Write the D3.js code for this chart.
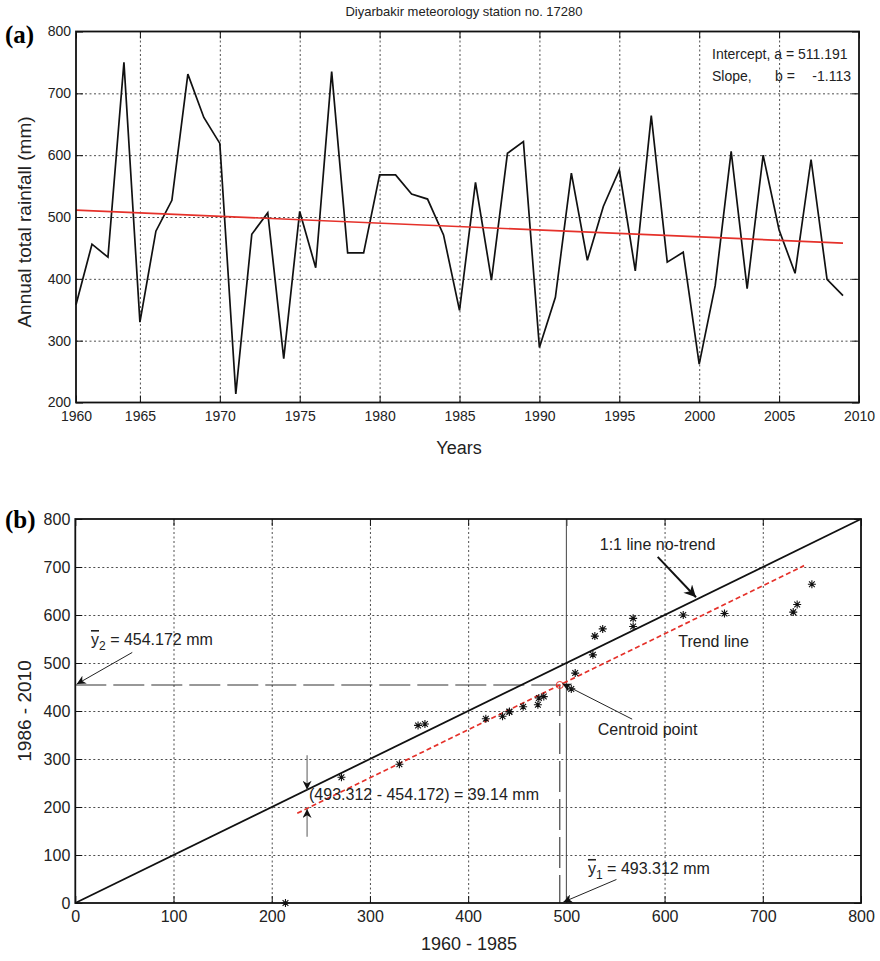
<!DOCTYPE html>
<html>
<head>
<meta charset="utf-8">
<script src="https://cdn.jsdelivr.net/npm/d3@7"></script>
<style>
  body { margin: 0; background: #fff; }
  svg { font-family: "Liberation Sans", Arial, sans-serif; }
  .grid line { stroke: #222; stroke-width: 0.8; stroke-dasharray: 2,2.5; }
  .grid path { display: none; }
  .ticklab path, .ticklab line { display: none; }
  .ticklab text { fill: #222; }
  .inner path { display: none; }
  .inner line { stroke: #111; stroke-width: 1; }
</style>
</head>
<body>
<svg width="880" height="961"></svg>
<script>
// ---- data (panel a): annual total rainfall, Diyarbakir 1961-2009 ----
const years = d3.range(1961, 2010);
const rainfall = [358, 456, 435, 750, 330, 477, 527, 731, 661, 619,
                  214, 472, 507, 271, 509, 418, 735, 442, 442, 568,
                  568, 537, 529, 471, 349, 556, 398, 603, 622, 289,
                  370, 571, 430, 517, 576, 413, 664, 427, 443, 262,
                  389, 606, 384, 600, 479, 409, 593, 399, 373];
const intercept = 511.191;
const slope = -1.113;
const trendYears = [1961, 2009];

const yearTicks = [1961, 1965, 1970, 1975, 1980, 1985, 1990, 1995, 2000, 2005, 2010];
const yearTickLabels = ['1960', '1965', '1970', '1975', '1980', '1985', '1990', '1995', '2000', '2005', '2010'];
const rainTicks = [200, 300, 400, 500, 600, 700, 800];

// ---- data (panel b): sorted halves 1960-1985 vs 1986-2010 ----
const firstHalf = [214, 271, 330, 349, 356, 418, 435, 442, 442, 456,
                   471, 472, 477, 505, 509, 527, 529, 537, 568, 568,
                   619, 661, 731, 735, 750];
const secondHalf = [0, 262, 289, 370, 373, 384, 389, 398, 399, 409,
                    413, 427, 430, 446, 479, 517, 556, 571, 576, 593,
                    600, 603, 606, 622, 664];
const oneToOne = [0, 800];
const trendX = [226, 742];
const trendShift = 39.14;
const meanFirst = 493.312;
const meanSecond = 454.172;
const bTicks = [0, 100, 200, 300, 400, 500, 600, 700, 800];

const svg = d3.select('svg');
const red = '#e5312a';

// arrow heads
const defs = svg.append('defs');
function marker(id, len, wid) {
    defs.append('marker')
        .attr('id', id)
        .attr('viewBox', '0 0 10 10')
        .attr('refX', 10).attr('refY', 5)
        .attr('markerUnits', 'userSpaceOnUse')
        .attr('markerWidth', len).attr('markerHeight', wid)
        .attr('orient', 'auto')
        .append('path')
        .attr('d', 'M0,0 L10,5 L0,10 L3,5 z')
        .attr('fill', '#111');
}
marker('headBig', 17, 12);
marker('head', 13, 9);

// ===================== panel (a) =====================
const a = { left: 76, top: 31.5, width: 783, height: 371 };
const xA = d3.scaleLinear().domain([1961, 2010]).range([0, a.width]);
const yA = d3.scaleLinear().domain([200, 800]).range([a.height, 0]);
const gA = svg.append('g').attr('transform', `translate(${a.left},${a.top})`);

gA.append('g').attr('class', 'grid')
    .attr('transform', `translate(0,${a.height})`)
    .call(d3.axisBottom(xA).tickValues(yearTicks.slice(1, -1)).tickSize(-a.height).tickFormat(''));
gA.append('g').attr('class', 'grid')
    .call(d3.axisLeft(yA).tickValues(rainTicks.slice(1, -1)).tickSize(-a.width).tickFormat(''));

// inner tick marks on all four sides
gA.append('g').attr('class', 'inner').attr('transform', `translate(0,${a.height})`)
    .call(d3.axisBottom(xA).tickValues(yearTicks).tickSize(-7).tickFormat(''));
gA.append('g').attr('class', 'inner')
    .call(d3.axisTop(xA).tickValues(yearTicks).tickSize(-7).tickFormat(''));
gA.append('g').attr('class', 'inner')
    .call(d3.axisLeft(yA).tickValues(rainTicks).tickSize(-7).tickFormat(''));
gA.append('g').attr('class', 'inner').attr('transform', `translate(${a.width},0)`)
    .call(d3.axisRight(yA).tickValues(rainTicks).tickSize(-7).tickFormat(''));

// tick labels
gA.append('g').attr('class', 'ticklab').attr('transform', `translate(0,${a.height})`)
    .call(d3.axisBottom(xA).tickValues(yearTicks).tickSize(0).tickPadding(9)
        .tickFormat((d, i) => yearTickLabels[i]))
    .selectAll('text').attr('font-size', 14);
gA.append('g').attr('class', 'ticklab')
    .call(d3.axisLeft(yA).tickValues(rainTicks).tickSize(0).tickPadding(5))
    .selectAll('text').attr('font-size', 14);

// rainfall series
const lineA = d3.line().x((d, i) => xA(years[i])).y(d => yA(d));
gA.append('path')
    .datum(rainfall)
    .attr('d', lineA)
    .attr('fill', 'none')
    .attr('stroke', '#111')
    .attr('stroke-width', 1.7)
    .attr('stroke-linejoin', 'miter');

// linear trend
gA.append('path')
    .datum(trendYears)
    .attr('d', d3.line().x(d => xA(d)).y(d => yA(intercept + slope * (d - 1961))))
    .attr('stroke', red)
    .attr('stroke-width', 1.7);

// box
gA.append('rect')
    .attr('width', a.width).attr('height', a.height)
    .attr('fill', 'none').attr('stroke', '#111').attr('stroke-width', 1.8);

// regression text
const reg = gA.append('g').attr('font-size', 14).attr('fill', '#222');
reg.append('text').attr('x', 636).attr('y', 27).text('Intercept, a = 511.191');
reg.append('text').attr('x', 636).attr('y', 49.5).text('Slope,');
reg.append('text').attr('x', 699).attr('y', 49.5).text('b =');
reg.append('text').attr('x', 775).attr('y', 49.5).attr('text-anchor', 'end').text('-1.113');

svg.append('text')
    .attr('x', 464).attr('y', 16)
    .attr('text-anchor', 'middle')
    .attr('font-size', 13).attr('fill', '#222')
    .text('Diyarbakir meteorology station no. 17280');

svg.append('text')
    .attr('transform', 'translate(31,222) rotate(-90)')
    .attr('text-anchor', 'middle')
    .attr('font-size', 19).attr('fill', '#222')
    .text('Annual total rainfall (mm)');

svg.append('text')
    .attr('x', 459).attr('y', 454)
    .attr('text-anchor', 'middle')
    .attr('font-size', 18).attr('fill', '#222')
    .text('Years');

svg.append('text').attr('x', 5).attr('y', 43)
    .attr('font-family', '"Liberation Serif", "Times New Roman", serif')
    .attr('font-weight', 'bold').attr('font-size', 25).text('(a)');

// ===================== panel (b) =====================
const b = { left: 75.3, top: 519, width: 785.7, height: 384 };
const xB = d3.scaleLinear().domain([0, 800]).range([0, b.width]);
const yB = d3.scaleLinear().domain([0, 800]).range([b.height, 0]);
const gB = svg.append('g').attr('transform', `translate(${b.left},${b.top})`);

gB.append('g').attr('class', 'grid')
    .attr('transform', `translate(0,${b.height})`)
    .call(d3.axisBottom(xB).tickValues(bTicks.slice(1, -1).filter(d => d !== 500)).tickSize(-b.height).tickFormat(''));
gB.append('g').attr('class', 'grid')
    .call(d3.axisLeft(yB).tickValues(bTicks.slice(1, -1)).tickSize(-b.width).tickFormat(''));

gB.append('g').attr('class', 'inner').attr('transform', `translate(0,${b.height})`)
    .call(d3.axisBottom(xB).tickValues(bTicks).tickSize(-7).tickFormat(''));
gB.append('g').attr('class', 'inner')
    .call(d3.axisTop(xB).tickValues(bTicks).tickSize(-7).tickFormat(''));
gB.append('g').attr('class', 'inner')
    .call(d3.axisLeft(yB).tickValues(bTicks).tickSize(-7).tickFormat(''));
gB.append('g').attr('class', 'inner').attr('transform', `translate(${b.width},0)`)
    .call(d3.axisRight(yB).tickValues(bTicks).tickSize(-7).tickFormat(''));

gB.append('g').attr('class', 'ticklab').attr('transform', `translate(0,${b.height})`)
    .call(d3.axisBottom(xB).tickValues(bTicks).tickSize(0).tickPadding(8))
    .selectAll('text').attr('font-size', 16);
gB.append('g').attr('class', 'ticklab')
    .call(d3.axisLeft(yB).tickValues(bTicks).tickSize(0).tickPadding(5))
    .selectAll('text').attr('font-size', 16);

// solid vertical line at 500
gB.append('line')
    .attr('x1', xB(500)).attr('x2', xB(500))
    .attr('y1', yB(0)).attr('y2', yB(800))
    .attr('stroke', '#444').attr('stroke-width', 1);

// mean guide lines (long dashes)
gB.append('line')
    .attr('x1', xB(0)).attr('x2', xB(meanFirst))
    .attr('y1', yB(meanSecond)).attr('y2', yB(meanSecond))
    .attr('stroke', '#333').attr('stroke-width', 1.1)
    .attr('stroke-dasharray', '31,7');
gB.append('line')
    .attr('x1', xB(meanFirst)).attr('x2', xB(meanFirst))
    .attr('y1', yB(meanSecond)).attr('y2', yB(0))
    .attr('stroke', '#333').attr('stroke-width', 1.1)
    .attr('stroke-dasharray', '31,7');

// 1:1 line
gB.append('path')
    .datum(oneToOne)
    .attr('d', d3.line().x(d => xB(d)).y(d => yB(d)))
    .attr('stroke', '#111').attr('stroke-width', 1.8);

// trend line (parallel shift)
gB.append('path')
    .datum(trendX)
    .attr('d', d3.line().x(d => xB(d)).y(d => yB(d - trendShift)))
    .attr('stroke', red).attr('stroke-width', 1.7)
    .attr('stroke-dasharray', '5,3');

// scatter points as asterisks
const asterisk = {
    draw(ctx, size) {
        const r = Math.sqrt(size) / 2;
        const d = r * 0.72;
        ctx.moveTo(-r, 0); ctx.lineTo(r, 0);
        ctx.moveTo(0, -r); ctx.lineTo(0, r);
        ctx.moveTo(-d, -d); ctx.lineTo(d, d);
        ctx.moveTo(-d, d); ctx.lineTo(d, -d);
    }
};
gB.selectAll('.pt')
    .data(firstHalf)
    .join('path')
    .attr('class', 'pt')
    .attr('transform', (d, i) => `translate(${xB(d)},${yB(secondHalf[i])})`)
    .attr('d', d3.symbol().type(asterisk).size(64))
    .attr('stroke', '#111').attr('stroke-width', 1.1).attr('fill', 'none');

// centroid
gB.append('circle')
    .attr('cx', xB(meanFirst)).attr('cy', yB(meanSecond)).attr('r', 3.5)
    .attr('fill', 'none').attr('stroke', red).attr('stroke-width', 1);

gB.append('rect')
    .attr('width', b.width).attr('height', b.height)
    .attr('fill', 'none').attr('stroke', '#111').attr('stroke-width', 1.8);

// annotations
function arrow(x1, y1, x2, y2, head, color, w) {
    gB.append('line')
        .attr('x1', xB(x1)).attr('y1', yB(y1))
        .attr('x2', xB(x2)).attr('y2', yB(y2))
        .attr('stroke', color).attr('stroke-width', w)
        .attr('marker-end', `url(#${head})`);
}
function note(x, y, size) {
    return gB.append('text')
        .attr('x', xB(x)).attr('y', yB(y))
        .attr('font-size', size).attr('fill', '#222');
}
function meanLabel(x, y, sub, rest) {
    const t = note(x, y, 16);
    t.append('tspan').style('text-decoration', 'overline').text('y');
    t.append('tspan').attr('dy', 5).attr('font-size', 12).text(sub);
    t.append('tspan').attr('dy', -5).text(rest);
}

meanLabel(16, 537.5, '2', ' = 454.172 mm');
arrow(58, 522, 1.5, 456, 'head', '#222', 1);

note(534, 735, 16).text('1:1 line no-trend');
arrow(593, 721, 632, 637, 'headBig', '#111', 2);

note(614, 534, 16).text('Trend line');

note(532, 350, 16).text('Centroid point');
arrow(567, 383, 496, 457, 'head', '#222', 1);

note(238, 214.5, 16).text('(493.312 - 454.172) = 39.14 mm');
arrow(236, 308, 236, 236, 'head', '#666', 1.1);
arrow(236, 138, 236, 196, 'head', '#666', 1.1);

meanLabel(522, 60.5, '1', ' = 493.312 mm');
arrow(551, 49, 497, 2, 'head', '#222', 1);

svg.append('text')
    .attr('transform', 'translate(31,711) rotate(-90)')
    .attr('text-anchor', 'middle')
    .attr('font-size', 19).attr('fill', '#222')
    .text('1986 - 2010');

svg.append('text')
    .attr('x', 469).attr('y', 950)
    .attr('text-anchor', 'middle')
    .attr('font-size', 18).attr('fill', '#222')
    .text('1960 - 1985');

svg.append('text').attr('x', 5).attr('y', 528)
    .attr('font-family', '"Liberation Serif", "Times New Roman", serif')
    .attr('font-weight', 'bold').attr('font-size', 25).text('(b)');
</script>
</body>
</html>
